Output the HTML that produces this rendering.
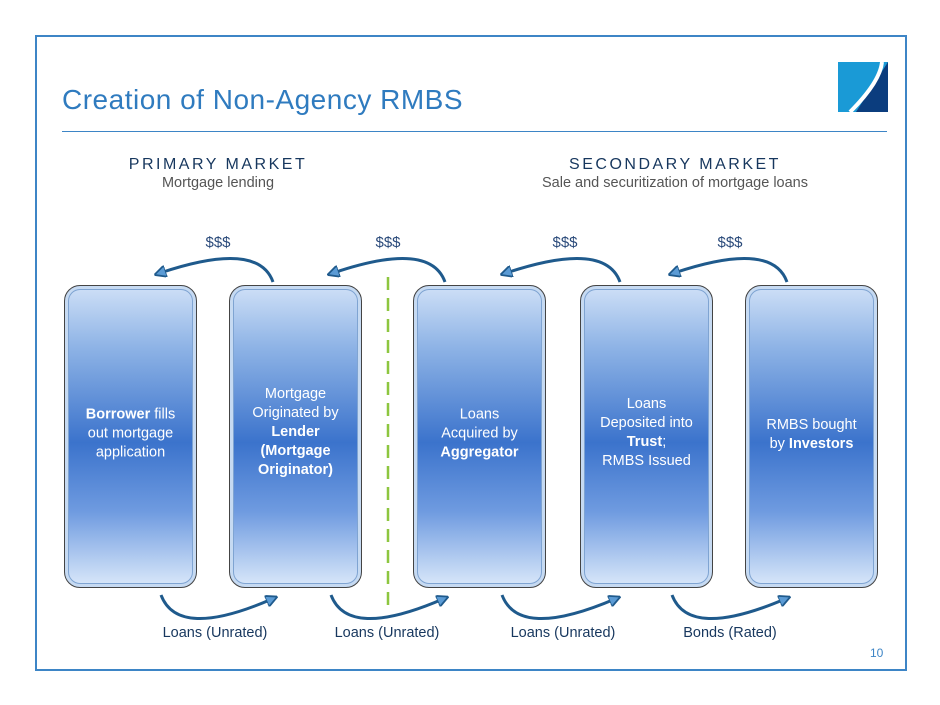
<!DOCTYPE html>
<html><head><style>
body{margin:0;width:940px;height:705px;background:#fff;font-family:"Liberation Sans",sans-serif;position:relative;overflow:hidden}
.frame{position:absolute;left:35px;top:35px;width:868px;height:632px;border:2px solid #3d85c6}
.title{position:absolute;left:62px;top:84px;font-size:28px;color:#2f7bbf;letter-spacing:0.5px}
.rule{position:absolute;left:62px;top:131px;width:825px;height:1px;background:#3d85c6}
.hd{position:absolute;text-align:center;color:#17375e}
.hd b{display:block;font-weight:normal;font-size:16px;letter-spacing:2.5px}
.hd span{font-size:14.5px;color:#555}
.box{position:absolute;top:285px;width:133px;height:303px;border-radius:16px;border:1px solid #444;box-shadow:inset 0 0 0 3px #c6daf2,inset 0 0 0 4px #7fa4d2;background:linear-gradient(#cfe0f7 0%,#8fb4e6 20%,#3b73cc 52%,#6f9be0 75%,#dbe9fa 100%);box-sizing:border-box}
.box div{position:absolute;left:0;right:0;top:50%;transform:translateY(-55%);text-align:center;color:#fff;font-size:14.5px;line-height:19px;padding:0 16px}
.lbl{position:absolute;font-size:14.5px;color:#17375e;width:140px;text-align:center}
.dl{font-size:15px;color:#2a4a7a}
.pg{position:absolute;left:870px;top:646px;font-size:12px;color:#3d85c6}
</style></head><body>
<div class="frame"></div>
<div class="title">Creation of Non-Agency RMBS</div>
<div class="rule"></div>
<svg style="position:absolute;left:838px;top:62px" width="50" height="50"><rect x="0" y="0" width="50" height="50" fill="#1a9ad6"/><polygon points="50,0 50,50 18,50" fill="#0b3d7e"/><path d="M44,0 Q42,20 12,50" stroke="#fff" stroke-width="4" fill="none"/></svg>
<div class="hd" style="left:118px;top:156px;width:200px"><b>PRIMARY MARKET</b><span>Mortgage lending</span></div>
<div class="hd" style="left:520px;top:156px;width:310px"><b>SECONDARY MARKET</b><span>Sale and securitization of mortgage loans</span></div>
<div class="lbl dl" style="left:148px;top:234px">$$$</div>
<div class="lbl dl" style="left:318px;top:234px">$$$</div>
<div class="lbl dl" style="left:495px;top:234px">$$$</div>
<div class="lbl dl" style="left:660px;top:234px">$$$</div>
<svg style="position:absolute;left:0;top:0" width="940" height="705">
<defs><marker id="a" markerWidth="4" markerHeight="4" refX="2" refY="2" orient="auto"><path d="M0,0 L4,2 L0,4 z" fill="#5b9bd5" stroke="#1f5a8c" stroke-width="0.6"/></marker></defs>
<g stroke="#1f5a8c" stroke-width="3" fill="none" marker-end="url(#a)">
<path d="M273,282 Q258,240 160,273"/>
<path d="M445,282 Q430,240 333,273"/>
<path d="M620,282 Q605,240 506,273"/>
<path d="M787,282 Q772,240 674,273"/>
<path d="M161,595 Q178,640 272,599"/>
<path d="M331,595 Q348,640 443,599"/>
<path d="M502,595 Q519,640 615,599"/>
<path d="M672,595 Q689,640 785,599"/>
</g>
<line x1="388" y1="277" x2="388" y2="612" stroke="#8dc63f" stroke-width="2.5" stroke-dasharray="13,8"/>
</svg>
<div class="box" style="left:64px"><div><b>Borrower</b> fills out mortgage application</div></div>
<div class="box" style="left:229px"><div>Mortgage Originated by <b>Lender (Mortgage Originator)</b></div></div>
<div class="box" style="left:413px"><div>Loans<br>Acquired by <b>Aggregator</b></div></div>
<div class="box" style="left:580px"><div>Loans<br>Deposited into <b>Trust</b>;<br>RMBS Issued</div></div>
<div class="box" style="left:745px"><div>RMBS bought by <b>Investors</b></div></div>
<div class="lbl" style="left:145px;top:625px">Loans (Unrated)</div>
<div class="lbl" style="left:317px;top:625px">Loans (Unrated)</div>
<div class="lbl" style="left:493px;top:625px">Loans (Unrated)</div>
<div class="lbl" style="left:660px;top:625px">Bonds (Rated)</div>
<div class="pg">10</div>
</body></html>
